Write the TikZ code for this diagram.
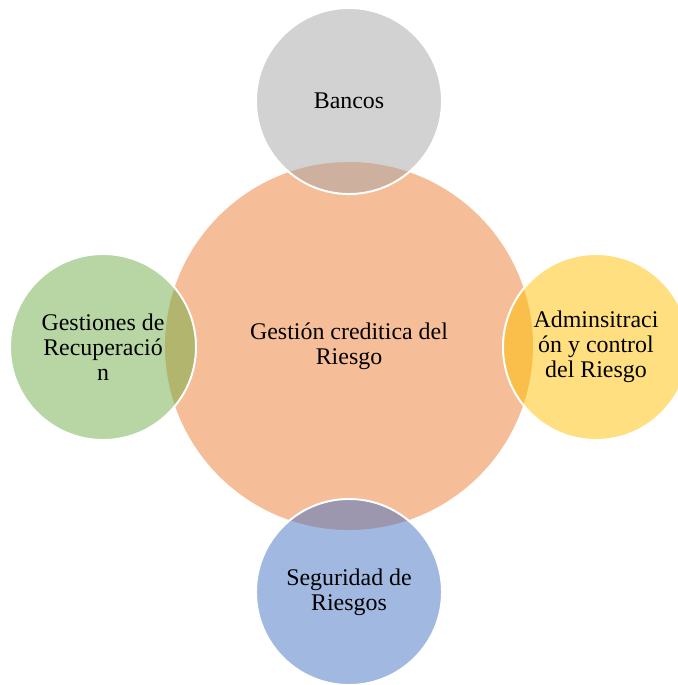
\documentclass[tikz,border=0pt]{standalone}
\usepackage{fontspec}
\setmainfont{Liberation Serif}
\usetikzlibrary{positioning}
\definecolor{orangeC}{HTML}{ED7D31}
\definecolor{grayC}{HTML}{A5A5A5}
\definecolor{greenC}{HTML}{70AD47}
\definecolor{yellowC}{HTML}{FFC000}
\definecolor{blueC}{HTML}{4472C4}

\begin{document}
\begin{tikzpicture}[x=0.025cm, y=-0.025cm,
  venn/.style={circle, draw=white, line width=1.4pt, fill opacity=0.5, text opacity=1,
    inner sep=0pt, align=center, font=\fontsize{17}{17.8}\selectfont},
  hub/.style={venn, minimum size=9.25cm},
  sat/.style={venn, minimum size=4.65cm}]
  \useasboundingbox (0,0) rectangle (678,685);

  % Central circle (orange)
  \node[hub, fill=orangeC] (G) at (349,346) {Gestión creditica del\\Riesgo};

  % Outer circles
  \node[sat, fill=grayC] (B) at (349,101) {Bancos};
  \node[sat, fill=greenC] (R) at (103,347) {Gestiones de\\Recuperació\\n};
  \node[sat, fill=yellowC] (A) at (596,347) {Adminsitraci\\ón y control\\del Riesgo};
  \node[sat, fill=blueC] (S) at (349,592) {Seguridad de\\Riesgos};
\end{tikzpicture}
\end{document}
